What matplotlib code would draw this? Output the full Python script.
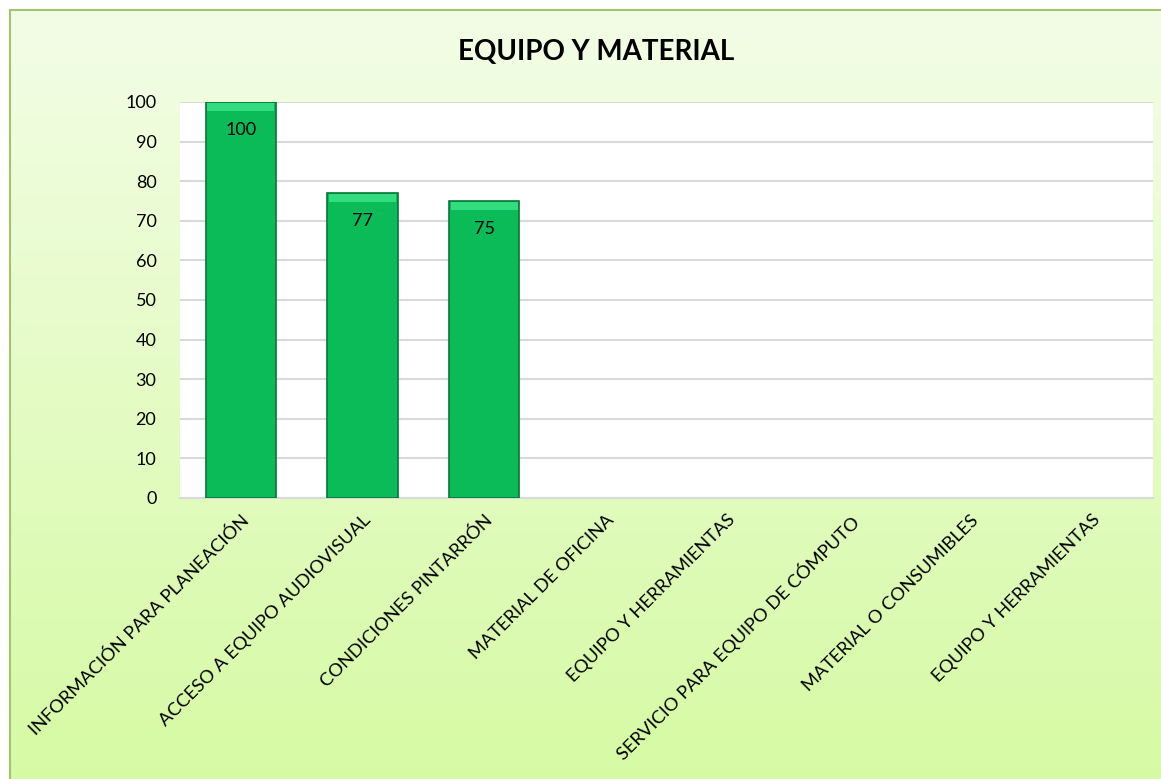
import matplotlib
matplotlib.use("Agg")
import matplotlib.pyplot as plt
import numpy as np
from matplotlib.patches import Rectangle

plt.rcParams['font.family'] = ['Lato', 'DejaVu Sans']

# data ---------------------------------
categorias = [
    "INFORMACIÓN PARA PLANEACIÓN",
    "ACCESO A EQUIPO AUDIOVISUAL",
    "CONDICIONES PINTARRÓN",
    "MATERIAL DE OFICINA",
    "EQUIPO Y HERRAMIENTAS",
    "SERVICIO PARA EQUIPO DE CÓMPUTO",
    "MATERIAL O CONSUMIBLES",
    "EQUIPO Y HERRAMIENTAS",
]
valores = [100, 77, 75, 0, 0, 0, 0, 0]
etiquetas = ["100", "77", "75", "", "", "", "", ""]
yticks = [0, 10, 20, 30, 40, 50, 60, 70, 80, 90, 100]

W, H = 1161, 779
fig = plt.figure(figsize=(W / 100, H / 100), dpi=100)
fig.patch.set_facecolor("white")

# gradient background of the chart area
bg = fig.add_axes([0, 0, 1, 1], zorder=-2)
grad = np.linspace(0, 1, 256).reshape(-1, 1)
top = np.array([0xF3, 0xFD, 0xE6]) / 255
bot = np.array([0xD6, 0xFA, 0xA4]) / 255
img = top + (bot - top) * grad[:, :, None]
bg.imshow(img, aspect="auto", extent=[10 / W, 1, 0, 1 - 10 / H])
bg.set_xlim(0, 1)
bg.set_ylim(0, 1)
bg.axis("off")
bg.add_patch(Rectangle((10 / W, -0.1), 1.2, 1.1 - 10 / H, fill=False,
                       edgecolor="#A3C46A", linewidth=1.5))

# plot area
ax = fig.add_axes([180 / W, 1 - 498 / H, (1153 - 180) / W, (498 - 102) / H])
ax.set_facecolor("white")
x = np.arange(len(categorias))
bars = ax.bar(x, valores, width=0.58, color="#0ABB57", edgecolor="#06763A",
              linewidth=1.2, zorder=3)
# soft bevel highlight on top of each bar
vals = np.array(valores, dtype=float)
h = np.minimum(vals, 2.0)
tops = ax.bar(x, h, bottom=vals - h - 0.3, width=0.55, color="#33DC7E",
              linewidth=0, zorder=4)
for b, t, v in zip(bars, tops, valores):
    if v == 0:
        b.set_visible(False)
        t.set_visible(False)
ax.bar_label(bars, labels=etiquetas, padding=-26, fontsize=13, color="black")

ax.set_xlim(-0.5, len(categorias) - 0.5)
ax.set_ylim(0, 100)
ax.set_yticks(yticks)
ax.tick_params(axis="y", length=0, labelsize=13, pad=17)
ax.tick_params(axis="x", length=0, pad=10)
ax.set_xticks(x)
ax.set_xticklabels(categorias, rotation=45, ha="right", rotation_mode="anchor",
                   fontsize=13.2)
ax.grid(axis="y", color="#D9D9D9", linewidth=1.5, zorder=0)
for s in ["top", "right", "left"]:
    ax.spines[s].set_visible(False)
ax.spines["bottom"].set_color("#D9D9D9")
ax.spines["bottom"].set_linewidth(1.5)

fig.text(596 / W, 1 - 52 / H, "EQUIPO Y MATERIAL", ha="center", va="center",
         fontsize=20, fontweight="bold")

fig.savefig("out.png", dpi=100)
